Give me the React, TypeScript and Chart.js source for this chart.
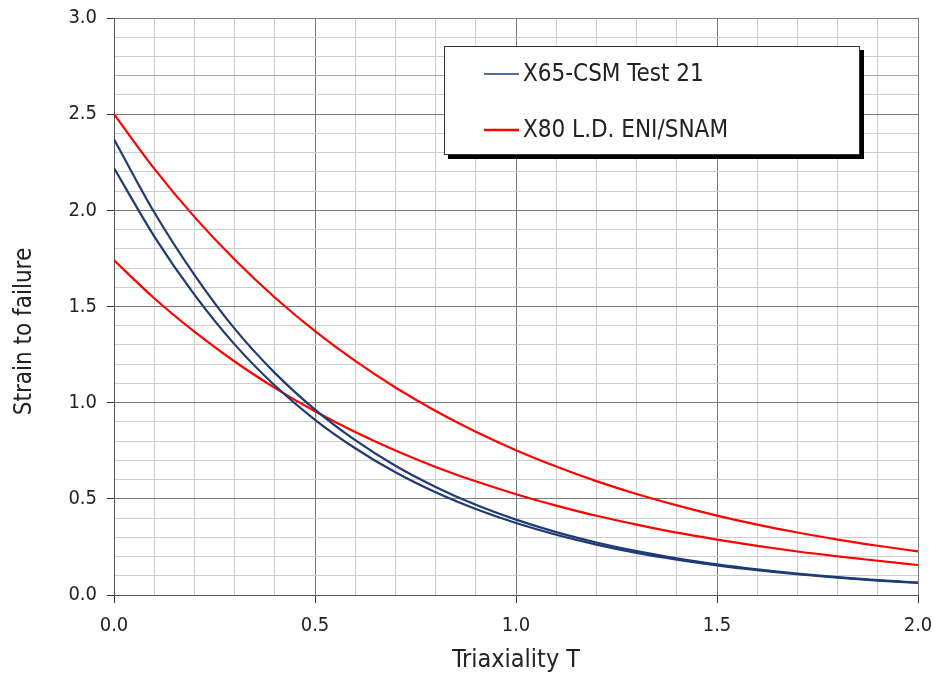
import React, { useEffect, useRef } from "react";
import { Chart, registerables } from "chart.js";

Chart.register(...registerables);

const triaxiality = [0, 0.1, 0.2, 0.3, 0.4, 0.5, 0.6, 0.7, 0.8, 0.9, 1.0, 1.1, 1.2, 1.3, 1.4, 1.5, 1.6, 1.7, 1.8, 1.9, 2.0];
const x65Upper = [2.37, 1.99, 1.665, 1.385, 1.155, 0.964, 0.805, 0.672, 0.562, 0.469, 0.392, 0.327, 0.273, 0.228, 0.191, 0.159, 0.133, 0.111, 0.093, 0.077, 0.065];
const x65Lower = [2.22, 1.865, 1.562, 1.303, 1.089, 0.911, 0.763, 0.638, 0.534, 0.447, 0.374, 0.313, 0.262, 0.219, 0.184, 0.154, 0.129, 0.108, 0.09, 0.075, 0.063];
const x80Upper = [2.5, 2.217, 1.966, 1.744, 1.547, 1.372, 1.217, 1.079, 0.957, 0.849, 0.753, 0.668, 0.592, 0.525, 0.466, 0.413, 0.366, 0.325, 0.288, 0.256, 0.227];
const x80Lower = [1.74, 1.543, 1.369, 1.214, 1.077, 0.955, 0.847, 0.751, 0.666, 0.591, 0.524, 0.465, 0.412, 0.366, 0.324, 0.288, 0.255, 0.226, 0.201, 0.178, 0.156];

const legendLabels = ["X65-CSM Test 21", "X80 L.D. ENI/SNAM"];
const xTitle = "Triaxiality T";
const yTitle = "Strain to failure";

const BLUE = "#1f3b73";
const RED = "#ff0000";
const FONT = "'DejaVu Sans Condensed', 'DejaVu Sans', sans-serif";
const TEXT = "#222222";

const toPts = (ys: number[]) => ys.map((y, i) => ({ x: triaxiality[i], y }));

const isMajor = (v: number) => Math.round(v * 10) % 5 === 0;

const gridColor = (ctx: any) => {
  const v = ctx.tick ? ctx.tick.value : 0;
  const t = Math.round(v * 10);
  if (t % 5 === 0) return "#7a7a7a";
  return "#cccccc";
};

const yGridColor = (ctx: any) => {
  const v = ctx.tick ? ctx.tick.value : 0;
  const t = Math.round(v * 10);
  if (t % 5 === 0) return "#7a7a7a";
  if (t === 27) return "#a8a8a8";
  return "#cccccc";
};

const overlayPlugin = {
  id: "overlay",
  afterDraw(chart: any) {
    const ctx = chart.ctx;
    const area = chart.chartArea;
    ctx.save();
    // axis titles
    ctx.fillStyle = TEXT;
    ctx.font = `25px ${FONT}`;
    ctx.textAlign = "center";
    ctx.textBaseline = "middle";
    ctx.fillText(xTitle, (area.left + area.right) / 2, 660);
    ctx.font = `24px ${FONT}`;
    ctx.save();
    ctx.translate(25, (area.top + area.bottom) / 2 + 25);
    ctx.rotate(-Math.PI / 2);
    ctx.fillText(yTitle, 0, 0);
    ctx.restore();

    // legend box
    const bx = 444, by = 46, bw = 416, bh = 109;
    ctx.fillStyle = "#000";
    ctx.fillRect(bx + 4, by + 4, bw, bh);
    ctx.fillStyle = "#fff";
    ctx.fillRect(bx, by, bw, bh);
    ctx.strokeStyle = "#333";
    ctx.lineWidth = 1;
    ctx.strokeRect(bx + 0.5, by + 0.5, bw - 1, bh - 1);

    const items = [
      { label: legendLabels[0], color: BLUE, y: 74, w: 1.5 },
      { label: legendLabels[1], color: RED, y: 130, w: 2.5 },
    ];
    ctx.font = `24px ${FONT}`;
    ctx.textAlign = "left";
    ctx.textBaseline = "middle";
    for (const it of items) {
      ctx.strokeStyle = it.color;
      ctx.lineWidth = it.w;
      ctx.beginPath();
      ctx.moveTo(484, it.y);
      ctx.lineTo(519, it.y);
      ctx.stroke();
      ctx.fillStyle = TEXT;
      ctx.fillText(it.label, 523, it.y + 1);
    }
    ctx.restore();
  },
};

export default function App() {
  const ref = useRef<HTMLCanvasElement>(null);
  useEffect(() => {
    document.body.style.margin = "0";
    const ds = (data: number[], color: string) => ({
      data: toPts(data),
      borderColor: color,
      backgroundColor: color,
      borderWidth: 2.2,
      pointRadius: 0,
      fill: false,
      cubicInterpolationMode: "monotone" as const,
    });
    const chart = new Chart(ref.current!, {
      type: "line",
      data: {
        datasets: [
          ds(x65Upper, BLUE),
          ds(x65Lower, BLUE),
          ds(x80Upper, RED),
          ds(x80Lower, RED),
        ],
      },
      options: {
        animation: false,
        responsive: false,
        events: [],
        layout: { padding: { left: 0, top: 18, right: 18, bottom: 0 } },
        plugins: { legend: { display: false }, tooltip: { enabled: false } },
        scales: {
          x: {
            type: "linear",
            min: 0,
            max: 2,
            afterFit: (s: any) => {
              s.height = 80;
              s.paddingLeft = 0;
              s.paddingRight = 0;
            },
            ticks: {
              stepSize: 0.1,
              autoSkip: false,
              maxRotation: 0,
              padding: 11,
              color: TEXT,
              font: { family: FONT, size: 20 },
              callback: (v: any) => (isMajor(Number(v)) ? Number(v).toFixed(1) : ""),
            },
            grid: {
              color: gridColor,
              lineWidth: 1,
              tickLength: 8,
              tickColor: (ctx: any) => (ctx.tick && isMajor(ctx.tick.value) ? "#333" : "rgba(0,0,0,0)"),
            },
            border: { display: true, color: "#555", width: 1 },
          },
          y: {
            type: "linear",
            min: 0,
            max: 3,
            afterFit: (s: any) => {
              s.width = 114;
              s.paddingTop = 0;
              s.paddingBottom = 0;
            },
            ticks: {
              stepSize: 0.1,
              autoSkip: false,
              padding: 10,
              color: TEXT,
              font: { family: FONT, size: 20 },
              callback: (v: any) => (isMajor(Number(v)) ? Number(v).toFixed(1) : ""),
            },
            grid: {
              color: yGridColor,
              lineWidth: 1,
              tickLength: 7,
              tickColor: (ctx: any) => (ctx.tick && isMajor(ctx.tick.value) ? "#333" : "rgba(0,0,0,0)"),
            },
            border: { display: true, color: "#555", width: 1 },
          },
        },
      },
      plugins: [overlayPlugin],
    });
    return () => chart.destroy();
  }, []);
  return (
    <div style={{ position: "fixed", left: 0, top: 0, width: 936, height: 675, background: "#fff" }}>
      <canvas ref={ref} width={936} height={675} />
    </div>
  );
}
